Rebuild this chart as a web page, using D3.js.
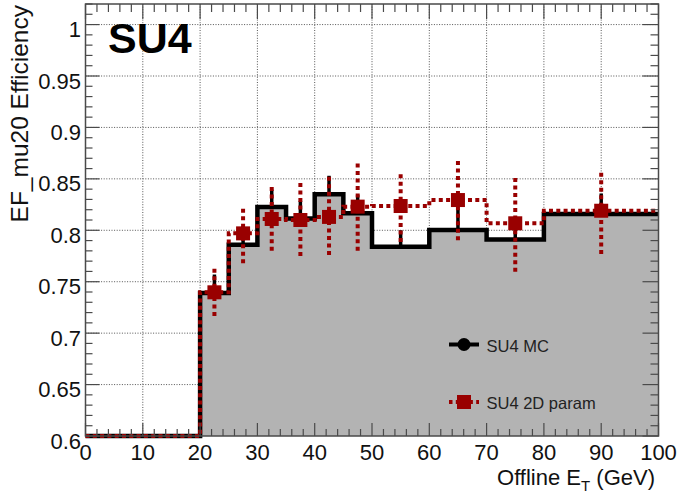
<!DOCTYPE html>
<html>
<head>
<meta charset="utf-8">
<script src="https://cdn.jsdelivr.net/npm/d3@7"></script>
<style>
  html, body { margin: 0; padding: 0; background: #fff; }
  svg { display: block; font-family: "Liberation Sans", Arial, sans-serif; }
</style>
</head>
<body>
<svg id="chart" width="682" height="497"></svg>
<script>
// Bin edges of the offline muon ET histogram (GeV)
const binEdges = [0, 20, 25, 30, 35, 40, 45, 50, 60, 70, 80, 100];
// SU4 MC trigger efficiency per bin, with its upper uncertainty
const mcEff   = [0, 0.739, 0.786, 0.8226, 0.8115, 0.835, 0.8165, 0.784, 0.8003, 0.791, 0.8158];
const mcErrUp = [0, 0.018, 0.018, 0.017, 0.017, 0.018, 0.018, 0.016, 0.020, 0.017, 0.020];
// SU4 2D parametrisation efficiency per bin, with asymmetric uncertainties
const paramEff     = [0, 0.7397, 0.797, 0.811, 0.810, 0.813, 0.823, 0.8236, 0.8294, 0.8068, 0.819];
const paramErrUp   = [0, 0.023, 0.024, 0.031, 0.036, 0.039, 0.042, 0.031, 0.038, 0.044, 0.037];
const paramErrDown = [0, 0.023, 0.029, 0.031, 0.035, 0.037, 0.043, 0.035, 0.039, 0.047, 0.042];
// Axis tick labels
const xTickValues = [0, 10, 20, 30, 40, 50, 60, 70, 80, 90, 100];
const yTickValues = [0.6, 0.65, 0.7, 0.75, 0.8, 0.85, 0.9, 0.95, 1.0];
const seriesNames = ["SU4 MC", "SU4 2D param"];

const RED = "#990000";
const FILL = "#b3b3b3";
const AXIS = "#4a4a4a";

const svg = d3.select("#chart");
const frameL = 85.5, frameR = 658.5, frameT = 4, frameB = 436;

const x = d3.scaleLinear().domain([0, 100]).range([frameL, frameR]);
const y = d3.scaleLinear().domain([0.6, 1.02]).range([frameB, frameT]).clamp(true);

// Step outline points for a binned series
function steps(values) {
  const pts = [];
  values.forEach((v, i) => {
    pts.push([binEdges[i], v]);
    pts.push([binEdges[i + 1], v]);
  });
  return pts;
}
const centers = binEdges.slice(0, -1).map((e, i) => (e + binEdges[i + 1]) / 2);

// Dotted grid at the major ticks
const grid = svg.append("g").attr("stroke", "#555").attr("stroke-width", 1)
  .attr("stroke-dasharray", "1,1.6");
xTickValues.filter(v => v > 0 && v < 100).forEach(v => {
  grid.append("line").attr("x1", x(v)).attr("x2", x(v)).attr("y1", frameT).attr("y2", frameB);
});
yTickValues.filter(v => v > 0.6).forEach(v => {
  grid.append("line").attr("x1", frameL).attr("x2", frameR).attr("y1", y(v)).attr("y2", y(v));
});

const plot = svg.append("g");

// MC histogram: grey fill under the black outline
const mcPts = steps(mcEff);
plot.append("path")
  .attr("d", d3.area().x(d => x(d[0])).y0(y(0.6)).y1(d => y(d[1]))(mcPts))
  .attr("fill", FILL);

// MC upper error bars
mcEff.forEach((v, i) => {
  if (v < 0.6) return;
  plot.append("line")
    .attr("x1", x(centers[i])).attr("x2", x(centers[i]))
    .attr("y1", y(v)).attr("y2", y(v + mcErrUp[i]))
    .attr("stroke", "#000").attr("stroke-width", 3.5);
});

plot.append("path")
  .attr("d", d3.line().x(d => x(d[0])).y(d => y(d[1]))(mcPts))
  .attr("fill", "none").attr("stroke", "#000").attr("stroke-width", 4.5)
  .attr("stroke-linejoin", "miter");

// 2D param: dotted step outline, dotted error bars, square markers
plot.append("path")
  .attr("d", d3.line().x(d => x(d[0])).y(d => y(d[1]))(steps(paramEff)))
  .attr("fill", "none").attr("stroke", RED).attr("stroke-width", 4)
  .attr("stroke-dasharray", "4,3.3");

paramEff.forEach((v, i) => {
  if (v < 0.6) return;
  const cx = x(centers[i]);
  plot.append("line")
    .attr("x1", cx).attr("x2", cx)
    .attr("y1", y(v + paramErrUp[i])).attr("y2", y(v))
    .attr("stroke", RED).attr("stroke-width", 4).attr("stroke-dasharray", "4,3.5");
  plot.append("line")
    .attr("x1", cx).attr("x2", cx)
    .attr("y1", y(v - paramErrDown[i])).attr("y2", y(v))
    .attr("stroke", RED).attr("stroke-width", 4).attr("stroke-dasharray", "4,3.5");
});
paramEff.forEach((v, i) => {
  if (v < 0.6) return;
  plot.append("rect")
    .attr("x", x(centers[i]) - 7).attr("y", y(v) - 7)
    .attr("width", 14).attr("height", 14)
    .attr("fill", RED);
});

// Frame with ticks on all four sides
const frame = svg.append("g").attr("stroke", AXIS).attr("stroke-width", 1.2);
frame.append("rect").attr("x", frameL).attr("y", frameT)
  .attr("width", frameR - frameL).attr("height", frameB - frameT)
  .attr("fill", "none").attr("stroke-width", 1.5);

const xMinor = d3.range(0, 100.001, 2);
xMinor.forEach(v => {
  const major = Math.abs(v % 10) < 1e-6;
  const len = major ? 13 : 7;
  frame.append("line").attr("x1", x(v)).attr("x2", x(v)).attr("y1", frameB).attr("y2", frameB - len);
  frame.append("line").attr("x1", x(v)).attr("x2", x(v)).attr("y1", frameT).attr("y2", frameT + (major ? 15 : 8));
});
const yMinor = d3.range(0.6, 1.0201, 0.01);
yMinor.forEach(v => {
  const major = Math.abs(Math.round(v * 100) % 5) === 0;
  const len = major ? 14 : 7;
  frame.append("line").attr("x1", frameL).attr("x2", frameL + len).attr("y1", y(v)).attr("y2", y(v));
  frame.append("line").attr("x1", frameR).attr("x2", frameR - (major ? 16 : 8)).attr("y1", y(v)).attr("y2", y(v));
});

// Tick labels
const labels = svg.append("g").attr("fill", "#111").attr("font-size", 22);
xTickValues.forEach(v => {
  labels.append("text").attr("x", x(v)).attr("y", 460)
    .attr("text-anchor", "middle").text(d3.format("d")(v));
});
yTickValues.forEach(v => {
  labels.append("text").attr("x", 81).attr("y", y(v) + 12.5)
    .attr("text-anchor", "end").text(d3.format("~g")(v));
});

// Axis titles
const xt = svg.append("text").attr("x", 655).attr("y", 485)
  .attr("text-anchor", "end").attr("font-size", 22).attr("fill", "#111");
xt.append("tspan").text("Offline E");
xt.append("tspan").attr("font-size", 15).attr("dy", 6).text("T");
xt.append("tspan").attr("dy", -6).text(" (GeV)");

svg.append("text")
  .attr("transform", "translate(28,5) rotate(-90)")
  .attr("text-anchor", "end").attr("font-size", 24.5).attr("fill", "#111")
  .text("EF_mu20 Efficiency");

// Sample label
svg.append("text").attr("x", 108).attr("y", 52.7)
  .attr("font-size", 43).attr("font-weight", "bold").attr("fill", "#000")
  .text("SU4");

// Legend
const lg = svg.append("g");
const lx0 = 449, lx1 = 479, lxc = 464;
lg.append("line").attr("x1", lx0).attr("x2", lx1).attr("y1", 344.5).attr("y2", 344.5)
  .attr("stroke", "#000").attr("stroke-width", 4);
lg.append("circle").attr("cx", lxc).attr("cy", 344.5).attr("r", 6.5).attr("fill", "#000");
lg.append("text").attr("x", 486.5).attr("y", 351.5).attr("font-size", 16.5).attr("fill", "#222")
  .text(seriesNames[0]);
lg.append("line").attr("x1", lx0).attr("x2", lx1).attr("y1", 402).attr("y2", 402)
  .attr("stroke", RED).attr("stroke-width", 4).attr("stroke-dasharray", "3.5,3.3");
lg.append("rect").attr("x", lxc - 7).attr("y", 402 - 7).attr("width", 14).attr("height", 14)
  .attr("fill", RED);
lg.append("text").attr("x", 486.5).attr("y", 408.5).attr("font-size", 16.5).attr("fill", "#222")
  .text(seriesNames[1]);
</script>
</body>
</html>
